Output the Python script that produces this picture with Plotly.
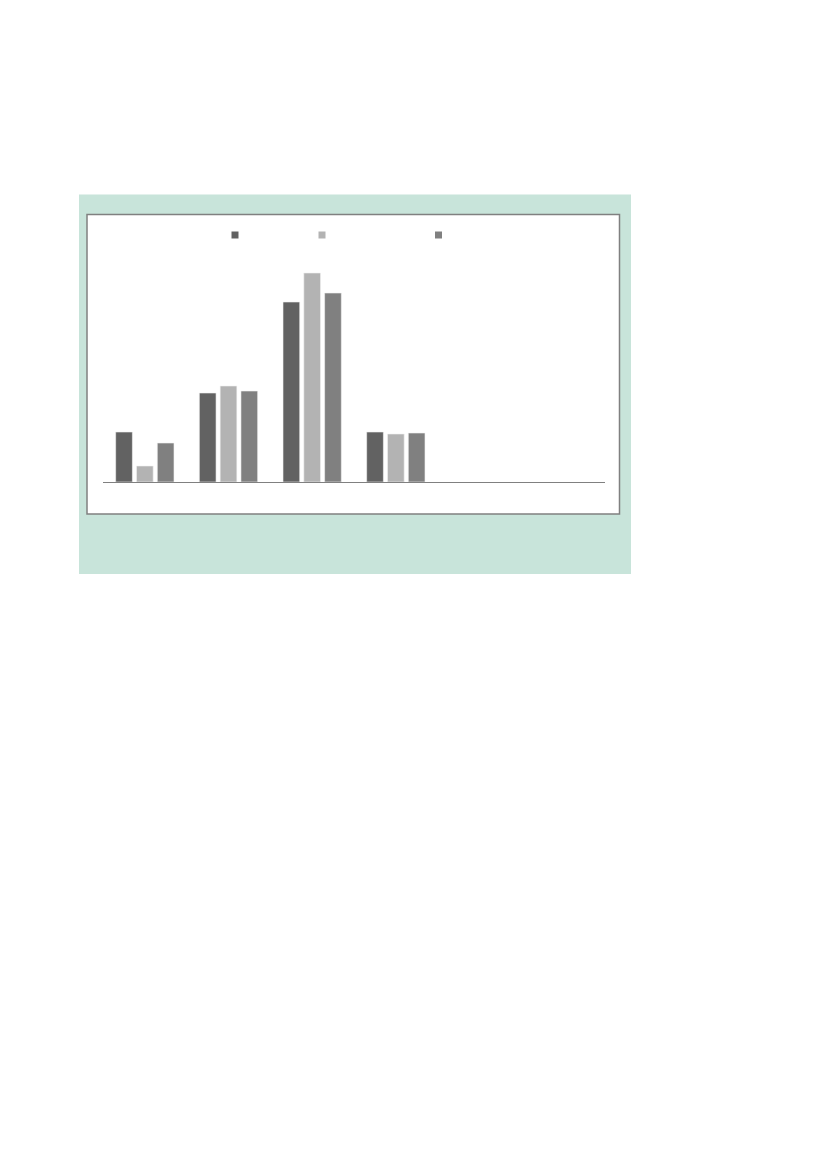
import plotly.graph_objects as go

# categories (six slots, only the first four carry data)
categories = ["1", "2", "3", "4", "5", "6"]
series_a = [5.0, 8.9, 18.0, 5.0, None, None]
series_b = [1.6, 9.6, 20.9, 4.8, None, None]
series_c = [3.9, 9.1, 18.9, 4.9, None, None]
colors = ["#626262", "#b3b3b3", "#808080"]

W, H = 827, 1170
OFF = 8  # page body margin in the browser
PW, PH = 502, 220           # plot area size
X0, Y1 = 103, 482           # plot left / bottom on screen
L, T = X0 - OFF, Y1 - PH - OFF
R, B = W - L - PW, H - T - PH


def px(x):
    return (x - X0) / PW


def py(y):
    return (Y1 - y) / PH


fig = go.Figure()
for vals, col in zip([series_a, series_b, series_c], colors):
    fig.add_trace(go.Bar(x=categories, y=vals, marker_color=col,
                         marker_line_color="#f2f2f2", marker_line_width=0.6,
                         showlegend=False))

shapes = [
    # green panel
    dict(type="rect", xref="paper", yref="paper", layer="below",
         x0=px(79), x1=px(631), y0=py(574), y1=py(194.5),
         fillcolor="#c8e4da", line_width=0),
    # white inner box
    dict(type="rect", xref="paper", yref="paper", layer="below",
         x0=px(87), x1=px(619.5), y0=py(514), y1=py(214.5),
         fillcolor="white", line=dict(color="#808080", width=1.5)),
]
# legend squares (labels are empty in the source)
for cx, col in zip([235, 322, 438.5], colors):
    shapes.append(dict(type="rect", xref="paper", yref="paper",
                       x0=px(cx - 3.5), x1=px(cx + 3.5),
                       y0=py(238.5), y1=py(231.5),
                       fillcolor=col, line_width=0))

fig.update_layout(
    width=W, height=H,
    margin=dict(l=L, r=R, t=T, b=B),
    paper_bgcolor="white", plot_bgcolor="rgba(0,0,0,0)",
    barmode="group", bargap=0.254, bargroupgap=0.197,
    shapes=shapes,
    xaxis=dict(showticklabels=False, showgrid=False, zeroline=False,
               showline=True, linecolor="#808080", linewidth=1, ticks=""),
    yaxis=dict(range=[0, 22], visible=False),
)

fig.write_html("out.html")
